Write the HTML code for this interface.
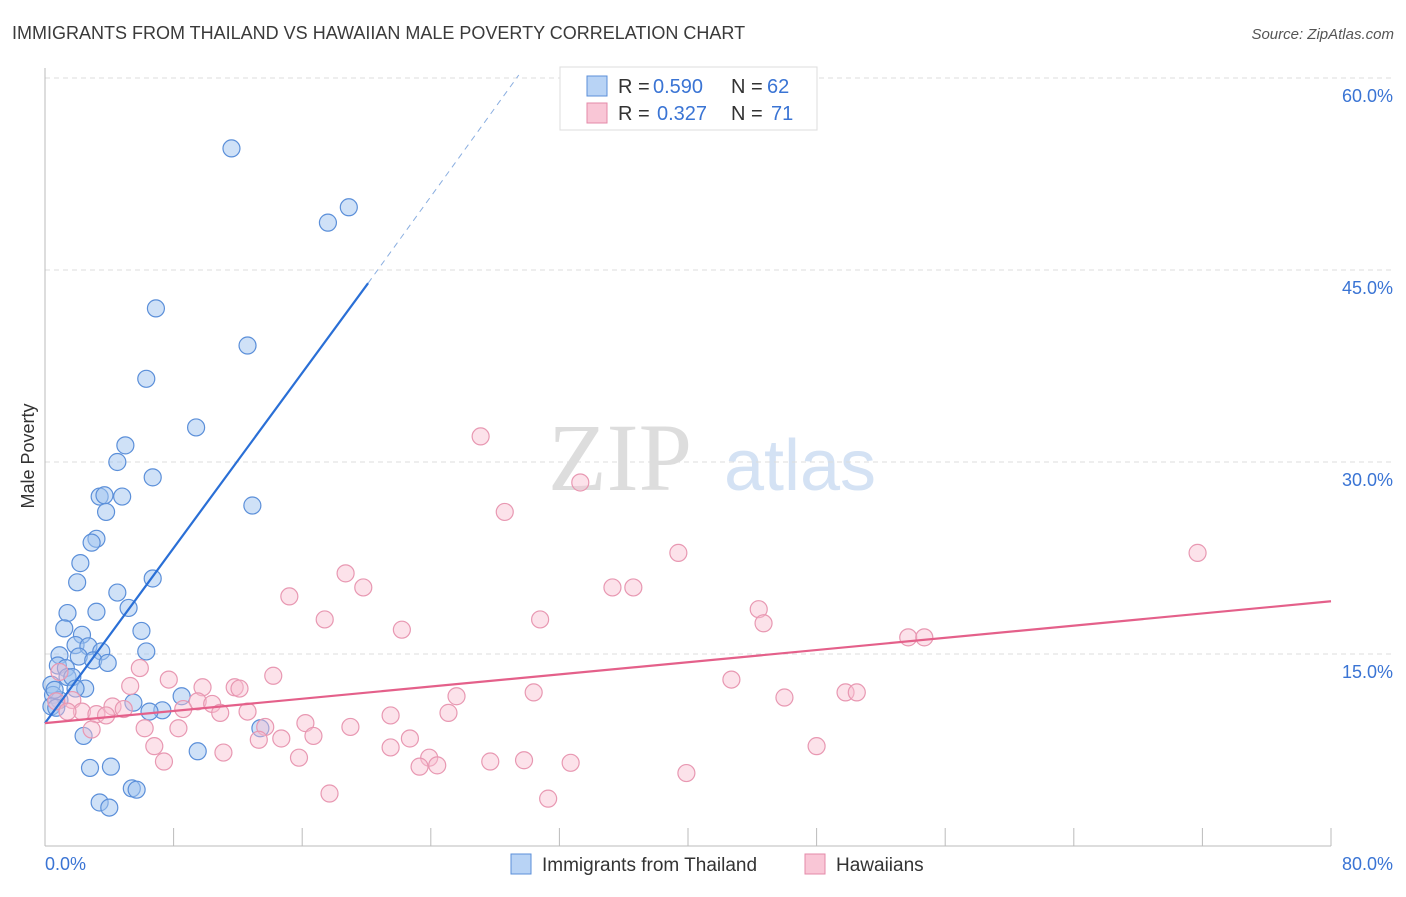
<!DOCTYPE html>
<html><head><meta charset="utf-8"><style>
body{margin:0;background:#fff;font-family:"Liberation Sans",sans-serif;}
</style></head><body>
<svg width="1406" height="892" xmlns="http://www.w3.org/2000/svg">
<text x="12" y="39" font-size="18" fill="#3a3a3a">IMMIGRANTS FROM THAILAND VS HAWAIIAN MALE POVERTY CORRELATION CHART</text>
<text x="1394" y="39" font-size="15" fill="#555" font-style="italic" text-anchor="end">Source: ZipAtlas.com</text>
<text x="620" y="490" font-size="96" font-family="Liberation Serif,serif" fill="#ddd" text-anchor="middle">ZIP</text>
<text x="800" y="490" font-size="72" fill="#d4e2f4" text-anchor="middle">atlas</text>
<g id="grid"></g>
<line x1="45" y1="68" x2="45" y2="846" stroke="#bbb"/>
<line x1="45" y1="846" x2="1331" y2="846" stroke="#bbb"/>
<text x="34" y="456" font-size="18" fill="#333" text-anchor="middle" transform="rotate(-90 34 456)">Male Poverty</text>
<text x="45" y="870" font-size="18" fill="#3a74d4">0.0%</text>
<text x="1393" y="870" font-size="18" fill="#3a74d4" text-anchor="end">80.0%</text>
<g id="pts"></g>
<g id="lines"></g>
<g>
<rect x="560" y="67" width="257" height="63" fill="#fff" stroke="#ddd"/>
<rect x="587" y="76" width="20" height="20" fill="#b8d3f5" stroke="#5b8fd9"/>
<rect x="587" y="103" width="20" height="20" fill="#f9c6d6" stroke="#e48aa8"/>
<text x="618" y="93" font-size="20" fill="#333">R =</text>
<text x="653" y="93" font-size="20" fill="#3a74d4">0.590</text>
<text x="731" y="93" font-size="20" fill="#333">N =</text>
<text x="767" y="93" font-size="20" fill="#3a74d4">62</text>
<text x="618" y="120" font-size="20" fill="#333">R =</text>
<text x="657" y="120" font-size="20" fill="#3a74d4">0.327</text>
<text x="731" y="120" font-size="20" fill="#333">N =</text>
<text x="771" y="120" font-size="20" fill="#3a74d4">71</text>
</g>
<g>
<rect x="511" y="854" width="20" height="20" fill="#b8d3f5" stroke="#5b8fd9"/>
<text x="542" y="871" font-size="19" fill="#333">Immigrants from Thailand</text>
<rect x="805" y="854" width="20" height="20" fill="#f9c6d6" stroke="#e48aa8"/>
<text x="836" y="871" font-size="19" fill="#333">Hawaiians</text>
</g>
</svg>
<script>
const yTicks=[15,30,45,60];
const xTicks=[8,16,24,32,40,48,56,64,72,80];
const blueX=[11.6,18.9,17.6,6.9,12.6,6.3,9.4,5.0,4.5,6.7,3.4,3.7,4.8,3.8,12.9,3.2,2.9,2.2,2.0,6.7,4.5,1.4,3.2,5.2,1.2,6.0,2.3,1.9,2.7,3.5,6.3,0.9,2.1,3.0,3.9,0.8,1.3,1.4,1.7,0.4,2.5,1.9,0.5,8.5,5.5,0.9,0.4,7.3,6.5,0.7,13.4,2.4,9.5,2.8,4.1,5.4,5.7,3.4,4.0,0.6];
const blueY=[54.5,49.9,48.7,42.0,39.1,36.5,32.7,31.3,30.0,28.8,27.3,27.4,27.3,26.1,26.6,24.0,23.7,22.1,20.6,20.9,19.8,18.2,18.3,18.6,17.0,16.8,16.5,15.7,15.6,15.2,15.2,14.9,14.8,14.5,14.3,14.1,13.9,13.2,13.2,12.6,12.3,12.3,11.8,11.7,11.2,11.4,10.9,10.6,10.5,10.8,9.2,8.6,7.4,6.1,6.2,4.5,4.4,3.4,3.0,12.2];
const pinkX=[27.1,33.3,28.6,39.4,71.7,18.7,19.8,35.3,36.6,15.2,44.4,17.4,30.8,44.7,22.2,53.7,54.7,5.9,14.2,7.7,42.7,5.3,9.8,11.8,12.1,25.6,30.4,49.8,50.5,46.0,1.7,0.7,9.5,10.4,8.6,4.2,4.9,2.3,3.2,3.8,1.4,10.9,12.6,21.5,25.1,16.2,6.2,8.3,19.0,2.9,13.7,16.7,14.7,13.3,22.7,6.8,21.5,48.0,11.1,15.8,7.4,23.9,27.7,29.8,24.4,23.3,32.7,39.9,17.7,31.3,0.9];
const pinkY=[32.0,28.4,26.1,22.9,22.9,21.3,20.2,20.2,20.2,19.5,18.5,17.7,17.7,17.4,16.9,16.3,16.3,13.9,13.3,13.0,13.0,12.5,12.4,12.4,12.3,11.7,12.0,12.0,12.0,11.6,11.4,11.3,11.3,11.1,10.7,10.9,10.7,10.5,10.3,10.2,10.5,10.4,10.5,10.2,10.4,9.6,9.2,9.2,9.3,9.1,9.3,8.6,8.4,8.3,8.4,7.8,7.7,7.8,7.3,6.9,6.6,6.9,6.6,6.7,6.3,6.2,6.5,5.7,4.1,3.7,13.6];
const blueFit=[9.6,1.71];
const pinkFit=[9.6,0.119];
const NS="http://www.w3.org/2000/svg";
function sx(v){return 45+v*16.075;}
function sy(v){return 846-v*12.8;}
function mk(t,a,p){const e=document.createElementNS(NS,t);for(const k in a)e.setAttribute(k,a[k]);p.appendChild(e);return e;}
const grid=document.getElementById('grid');
yTicks.forEach(t=>{
 const l=mk('line',{x1:45,x2:1395,y1:sy(t),y2:sy(t),stroke:'#ddd','stroke-dasharray':'5,4'},grid);
 
 
 const tx=mk('text',{x:1393,y:sy(t)+24,'font-size':18,fill:'#3a74d4','text-anchor':'end'},grid);
 tx.textContent=t.toFixed(1)+'%';
 
 
});
xTicks.forEach(t=>{
 const l=mk('line',{x1:sx(t),x2:sx(t),y1:828,y2:846,stroke:'#bbb'},grid);
 
 
});
const pts=document.getElementById('pts');
blueX.forEach((x,i)=>{
 const c=mk('circle',{cx:sx(x),cy:sy(blueY[i]),r:8.5,fill:'rgba(160,196,240,0.5)',stroke:'#5b8fd9','stroke-width':1.2},pts);
 
 
});
pinkX.forEach((x,i)=>{
 const c=mk('circle',{cx:sx(x),cy:sy(pinkY[i]),r:8.5,fill:'rgba(248,190,208,0.45)',stroke:'#e898b2','stroke-width':1.2},pts);
 
 
});
const ln=document.getElementById('lines');
const xe=(60-blueFit[0])/blueFit[1];
let l1=mk('line',{x1:sx(0),y1:sy(blueFit[0]),x2:sx(20.1),y2:sy(blueFit[0]+blueFit[1]*20.1),stroke:'#2a6fd6','stroke-width':2.2},ln);


let l2=mk('line',{x1:sx(20.1),y1:sy(blueFit[0]+blueFit[1]*20.1),x2:sx(xe),y2:sy(60)-3,stroke:'#8aaee0','stroke-width':1,'stroke-dasharray':'6,5'},ln);


let l3=mk('line',{x1:sx(0),y1:sy(pinkFit[0]),x2:sx(80),y2:sy(pinkFit[0]+pinkFit[1]*80),stroke:'#e4608a','stroke-width':2.2},ln);


</script>
</body></html>
